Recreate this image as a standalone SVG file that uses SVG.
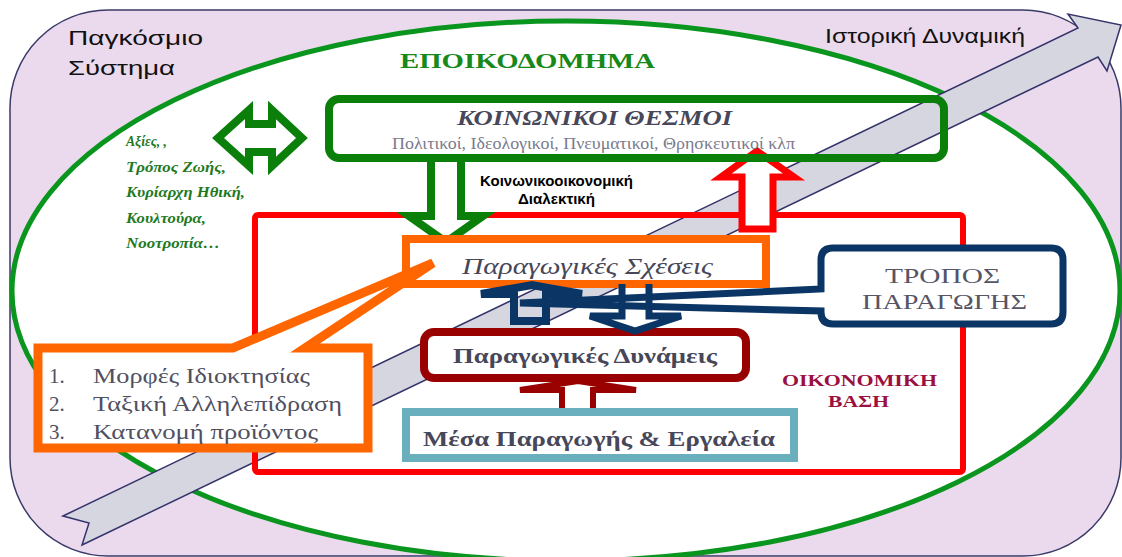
<svg xmlns="http://www.w3.org/2000/svg" width="1122" height="557" viewBox="0 0 1122 557">
<defs>
<style>
.sans{font-family:"Liberation Sans",Arial,sans-serif}
.serif{font-family:"Liberation Serif","Times New Roman",serif}
.gtxt{font-family:"Liberation Serif",serif;font-weight:bold;font-style:italic;font-size:15px;fill:#1f7a1f}
.dark{fill:#474759}
.list{font-family:"Liberation Serif",serif;font-size:21px;fill:#50505f}
.navy{fill:none;stroke:#0b3565;stroke-linejoin:miter}
</style>
</defs>
<g id="background">
<rect x="10" y="10" width="1111" height="546" rx="98" ry="98" fill="#ebdaed" stroke="#3a3a68" stroke-width="1.5"/>
<ellipse cx="566" cy="291" rx="554" ry="270" fill="#ffffff" stroke="#0a961e" stroke-width="5"/>
</g>
<g id="historical-arrow">
<polygon points="63,516 1078,28 1068,14 1121,25 1107,71 1098,57 82,545 89,523" fill="#d6d6e1" stroke="#33336a" stroke-width="1.5" stroke-linejoin="miter"/>
</g>
<g id="economic-base">
<rect x="255" y="215" width="708" height="257" rx="3" fill="none" stroke="#ff0000" stroke-width="6"/>
</g>
<g id="labels">
<text class="sans" x="68" y="45" font-size="21" fill="#111" textLength="135" lengthAdjust="spacingAndGlyphs">Παγκόσμιο</text>
<text class="sans" x="68" y="75" font-size="21" fill="#111" textLength="107" lengthAdjust="spacingAndGlyphs">Σύστημα</text>
<text class="sans" x="825" y="43" font-size="20" fill="#111" textLength="200" lengthAdjust="spacingAndGlyphs">Ιστορική Δυναμική</text>
<text class="serif" x="400" y="68" font-size="22" font-weight="bold" fill="#17891a" textLength="255" lengthAdjust="spacingAndGlyphs">ΕΠΟΙΚΟΔΟΜΗΜΑ</text>
<text class="sans" x="480" y="186" font-size="14" font-weight="bold" fill="#000" textLength="153" lengthAdjust="spacingAndGlyphs">Κοινωνικοοικονομική</text>
<text class="sans" x="518" y="204" font-size="14" font-weight="bold" fill="#000" textLength="77" lengthAdjust="spacingAndGlyphs">Διαλεκτική</text>
<text class="serif" x="782" y="386" font-size="17" font-weight="bold" fill="#9b1040" textLength="155" lengthAdjust="spacingAndGlyphs">ΟΙΚΟΝΟΜΙΚΗ</text>
<text class="serif" x="828" y="407" font-size="17" font-weight="bold" fill="#9b1040" textLength="61" lengthAdjust="spacingAndGlyphs">ΒΑΣΗ</text>
</g>
<g id="values">
<text class="gtxt" x="126" y="146" textLength="41" lengthAdjust="spacingAndGlyphs">Αξίες, ,</text>
<text class="gtxt" x="126" y="172" textLength="100" lengthAdjust="spacingAndGlyphs">Τρόπος Ζωής,</text>
<text class="gtxt" x="126" y="197" textLength="119" lengthAdjust="spacingAndGlyphs">Κυρίαρχη Ηθική,</text>
<text class="gtxt" x="126" y="223" textLength="80" lengthAdjust="spacingAndGlyphs">Κουλτούρα,</text>
<text class="gtxt" x="126" y="248" textLength="94" lengthAdjust="spacingAndGlyphs">Νοοτροπία…</text>
</g>
<g id="connectors">
<path d="M218,138 L249,110 V124 H272 V110 L302,138 L272,166 V152 H249 V166 Z" fill="#ffffff" stroke="#0a7f0a" stroke-width="8"/>
<path d="M431,158 V216 H409 L446,242 L483,216 H461 V158" fill="#ffffff" stroke="#0a7f0a" stroke-width="8"/>
<path d="M742,229 V177 H721 L757,151 L794,177 H773 V229 Z" fill="#ffffff" stroke="#ff0000" stroke-width="7"/>
<path d="M562,412 V390 H520 L578,381 L636,390 H593 V412 Z" fill="#ffffff" stroke="#990000" stroke-width="6"/>
</g>
<g id="social-institutions">
<rect x="329" y="99" width="615" height="59" rx="10" fill="none" stroke="#0a7f0a" stroke-width="8"/>
<text class="serif dark" x="457" y="125" font-size="22" font-weight="bold" font-style="italic" textLength="275" lengthAdjust="spacingAndGlyphs">ΚΟΙΝΩΝΙΚΟΙ ΘΕΣΜΟΙ</text>
<text class="serif" x="392" y="149" font-size="16" fill="#7a7a8c" textLength="403" lengthAdjust="spacingAndGlyphs">Πολιτικοί, Ιδεολογικοί, Πνευματικοί, Θρησκευτικοί κλπ</text>
</g>
<g id="production-relations">
<rect x="406" y="239" width="360" height="45" fill="#ffffff" stroke="#ff6600" stroke-width="8"/>
<text class="serif dark" x="462" y="274" font-size="23" font-style="italic" textLength="251" lengthAdjust="spacingAndGlyphs">Παραγωγικές Σχέσεις</text>
</g>
<g id="relations-callout">
<path d="M38,348 H233 L433,263 L305,348 H368 V448 H38 Z" fill="#ffffff" stroke="#ff6600" stroke-width="9"/>
<text class="list" x="49" y="383">1.</text>
<text class="list" x="93" y="383" textLength="217" lengthAdjust="spacingAndGlyphs">Μορφές Ιδιοκτησίας</text>
<text class="list" x="49" y="411">2.</text>
<text class="list" x="93" y="411" textLength="249" lengthAdjust="spacingAndGlyphs">Ταξική Αλληλεπίδραση</text>
<text class="list" x="49" y="439">3.</text>
<text class="list" x="93" y="439" textLength="225" lengthAdjust="spacingAndGlyphs">Κατανομή προϊόντος</text>
</g>
<g id="productive-forces">
<rect x="424" y="332" width="322" height="46" rx="10" fill="#ffffff" stroke="#990000" stroke-width="8"/>
<text class="serif dark" x="453" y="363" font-size="21" font-weight="bold" textLength="264" lengthAdjust="spacingAndGlyphs">Παραγωγικές Δυνάμεις</text>
</g>
<g id="means-of-production">
<rect x="406" y="412" width="388" height="46" fill="#ffffff" stroke="#6aafbd" stroke-width="8"/>
<text class="serif dark" x="423" y="446" font-size="22" font-weight="bold" textLength="352" lengthAdjust="spacingAndGlyphs">Μέσα Παραγωγής &amp; Εργαλεία</text>
</g>
<g id="mode-of-production">
<path d="M833,248 H1051 Q1063,248 1063,260 V312 Q1063,324 1051,324 H833 Q821,324 821,312 V311 L520,303 L821,289 V260 Q821,248 833,248 Z" fill="#ffffff" stroke="#0b3565" stroke-width="7"/>
<text class="serif" x="885" y="283" font-size="22" fill="#555566" textLength="115" lengthAdjust="spacingAndGlyphs">ΤΡΟΠΟΣ</text>
<text class="serif" x="862" y="309" font-size="22" fill="#555566" textLength="165" lengthAdjust="spacingAndGlyphs">ΠΑΡΑΓΩΓΗΣ</text>
</g>
<g id="mode-arrows">
<path class="navy" d="M514,321 V294 H481 L532,285 L582,294 H546 V321 Z" stroke-width="8"/>
<path class="navy" d="M622,284 V316 H590 L635,331 L681,316 H649 V284" stroke-width="7"/>
</g>
</svg>
